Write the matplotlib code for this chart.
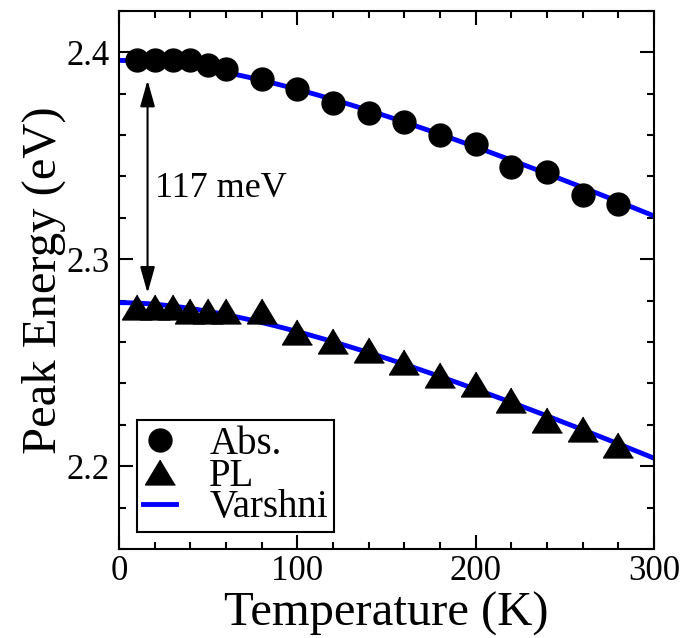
import numpy as np
import matplotlib
matplotlib.use("Agg")
import matplotlib.pyplot as plt
from matplotlib.lines import Line2D
from matplotlib.ticker import MultipleLocator

# Peak positions vs temperature
T_ABS = [10, 20, 30, 40, 50, 60, 80, 100, 120, 140, 160, 180, 200, 220, 240, 260, 280]
E_ABS = [2.3960, 2.3960, 2.3960, 2.3963, 2.3940, 2.3917, 2.3872, 2.3824, 2.3754,
         2.3708, 2.3663, 2.3599, 2.3555, 2.3443, 2.3422, 2.3310, 2.3266]

T_PL = [10, 20, 30, 40, 50, 60, 80, 100, 120, 140, 160, 180, 200, 220, 240, 260, 280]
E_PL = [2.2768, 2.2768, 2.2768, 2.2748, 2.2748, 2.2748, 2.2750, 2.2646, 2.2607,
        2.2562, 2.2501, 2.2440, 2.2398, 2.2318, 2.2222, 2.2178, 2.2101]

# Varshni fit parameters: E0 (eV), alpha (eV/K), beta (K)
VARSHNI_ABS = (2.396, 4.14e-4, 196.0)
VARSHNI_PL = (2.279, 4.14e-4, 196.0)

# Stokes shift marker
SHIFT_T = 16
SHIFT_TOP = 2.3864
SHIFT_BOTTOM = 2.2836
SHIFT_LABEL = "117 meV"

BLUE = "#0000FF"
FONT = ["Liberation Serif", "DejaVu Serif"]


def varshni(T, E0, alpha, beta):
    return E0 - alpha * T ** 2 / (T + beta)


plt.rcParams.update({
    "font.family": FONT,
    "axes.linewidth": 1.5,
})

fig = plt.figure(figsize=(6.84, 6.38), dpi=100)
ax = fig.add_axes([0.174, 0.1395, 0.782, 0.8437])

t_fit = np.linspace(0, 300, 301)
ax.plot(t_fit, varshni(t_fit, *VARSHNI_ABS), color=BLUE, lw=3.5, zorder=2)
ax.plot(t_fit, varshni(t_fit, *VARSHNI_PL), color=BLUE, lw=3.5, zorder=2)

ax.plot(T_ABS, E_ABS, "o", ms=16.5, color="black", mec="black", zorder=3)
tri = [(0, 1), (-1.2, -1), (1.2, -1)]
ax.plot(T_PL, E_PL, marker=tri, ls="none", ms=21.5, color="black", mec="black", zorder=3)

ax.annotate("", xy=(SHIFT_T, SHIFT_BOTTOM), xytext=(SHIFT_T, SHIFT_TOP),
            arrowprops=dict(arrowstyle="<|-|>,head_length=1.6,head_width=0.45",
                            mutation_scale=10, lw=1.5, color="black",
                            shrinkA=0, shrinkB=0))
ax.text(20.2, 2.3342, SHIFT_LABEL, fontsize=26, ha="left", va="center")

ax.set_xlim(0, 300)
ax.set_ylim(2.16, 2.42)
ax.xaxis.set_major_locator(MultipleLocator(100))
ax.xaxis.set_minor_locator(MultipleLocator(20))
ax.yaxis.set_major_locator(MultipleLocator(0.1))
ax.yaxis.set_minor_locator(MultipleLocator(0.02))
ax.tick_params(which="both", direction="in", top=True, right=True, width=1.5)
ax.tick_params(which="major", length=10, labelsize=25)
ax.tick_params(which="minor", length=5)
ax.tick_params(axis="y", which="major", pad=7)
ax.tick_params(axis="x", which="major", pad=4)

ax.set_xlabel("Temperature (K)", fontsize=35, labelpad=3)
ax.set_ylabel("Peak Energy (eV)", fontsize=35)
ax.yaxis.set_label_coords(-0.099, 0.5)

handles = [
    Line2D([], [], marker="o", ls="none", ms=16.5, color="black"),
    Line2D([], [], marker=tri, ls="none", ms=21.5, color="black"),
    Line2D([], [], color=BLUE, lw=3.5),
]
leg = ax.legend(handles, ["Abs.", "PL", "Varshni"], loc="lower left",
                bbox_to_anchor=(0.034, 0.031), borderaxespad=0, fontsize=28,
                frameon=True, fancybox=False, framealpha=1, edgecolor="black",
                handlelength=0.85, handletextpad=0.85, labelspacing=-0.13,
                borderpad=0.15)
leg.get_frame().set_linewidth(1.5)

fig.savefig("out.png", dpi=100)
